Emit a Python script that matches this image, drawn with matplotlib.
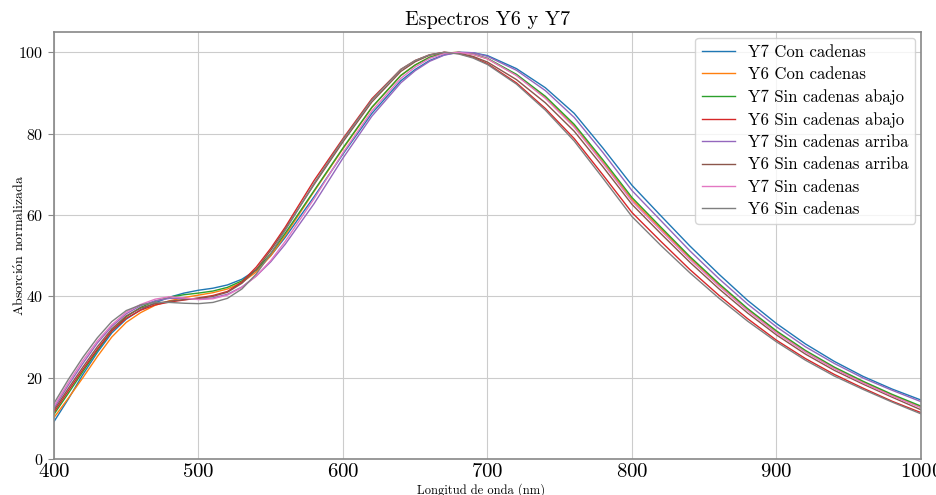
import matplotlib
matplotlib.use("Agg")
import matplotlib.pyplot as plt

plt.rcParams['font.family'] = ['cmr10', 'DejaVu Serif']
plt.rcParams['mathtext.fontset'] = 'cm'
plt.rcParams['axes.formatter.use_mathtext'] = True

wavelength = [400, 410, 420, 430, 440, 450, 460, 470, 480, 490, 500, 510, 520, 530, 540, 550, 560,
              580, 600, 620, 640, 650, 660, 670, 680, 690, 700, 720, 740, 760, 780, 800, 820, 840,
              860, 880, 900, 920, 940, 960, 980, 1000]

y7_con = [9.2, 14.8, 20.8, 26.2, 31.0, 34.4, 36.7, 38.4, 39.8, 40.8, 41.5, 42.0, 42.8, 44.2, 46.5, 50.0, 54.5,
          64.5, 75.0, 85.0, 93.0, 95.8, 98.0, 99.4, 100.0, 99.9, 99.2, 96.0, 91.3, 85.0, 76.4, 67.3, 59.8, 52.4,
          45.5, 39.0, 33.3, 28.3, 24.0, 20.3, 17.2, 14.5]
y6_con = [10.2, 15.0, 20.0, 25.2, 30.0, 33.6, 36.0, 37.8, 38.9, 39.7, 40.3, 40.9, 41.8, 43.4, 46.0, 50.0, 55.0,
          65.8, 76.3, 86.4, 94.3, 96.9, 98.8, 99.8, 100.0, 99.5, 98.4, 94.4, 88.9, 81.9, 73.0, 63.8, 56.6, 49.5,
          42.9, 36.8, 31.3, 26.5, 22.4, 18.9, 15.7, 12.8]
y7_sin_abajo = [11.0, 16.2, 21.5, 26.7, 31.5, 35.0, 37.3, 38.8, 39.8, 40.4, 40.8, 41.3, 42.2, 43.8, 46.5, 50.5, 55.5,
                66.0, 76.5, 86.5, 94.3, 96.9, 98.8, 99.8, 100.0, 99.6, 98.5, 94.6, 89.2, 82.3, 73.5, 64.3, 57.0, 49.8,
                43.2, 37.0, 31.5, 26.7, 22.6, 19.1, 15.9, 13.0]
y6_sin_abajo = [11.5, 16.8, 22.0, 27.0, 31.5, 34.6, 36.6, 37.9, 38.6, 39.1, 39.6, 40.2, 41.2, 43.5, 47.2, 51.8, 57.0,
                68.5, 78.8, 88.6, 95.8, 98.0, 99.4, 100.0, 99.7, 98.8, 97.2, 92.5, 86.2, 78.8, 69.8, 60.6, 53.5, 46.6,
                40.3, 34.5, 29.2, 24.7, 20.8, 17.4, 14.2, 11.4]
y7_sin_arriba = [12.5, 18.2, 23.5, 28.5, 32.6, 35.7, 37.7, 38.9, 39.5, 39.5, 39.3, 39.6, 40.5, 42.3, 45.0, 48.5, 52.8,
                 62.8, 74.0, 84.3, 92.5, 95.5, 97.8, 99.3, 100.0, 99.9, 99.0, 95.6, 90.6, 84.0, 75.3, 66.0, 58.6, 51.2,
                 44.4, 38.1, 32.5, 27.6, 23.5, 19.9, 16.9, 14.1]
y6_sin_arriba = [12.0, 17.4, 22.6, 27.6, 32.0, 35.2, 37.1, 38.2, 38.8, 39.2, 39.5, 40.0, 41.0, 43.2, 46.6, 51.3, 56.5,
                 67.5, 78.0, 87.8, 95.3, 97.7, 99.3, 100.0, 99.8, 99.0, 97.6, 93.3, 87.6, 80.6, 71.8, 62.6, 55.4, 48.4,
                 41.9, 35.9, 30.5, 25.8, 21.8, 18.4, 15.2, 12.1]
y7_sin = [13.0, 18.8, 24.2, 29.0, 33.0, 36.1, 38.0, 39.3, 39.9, 39.6, 39.2, 39.4, 40.3, 42.2, 45.0, 48.8, 53.5,
          64.0, 75.3, 85.6, 93.6, 96.4, 98.5, 99.7, 100.0, 99.5, 98.4, 94.3, 88.7, 81.6, 72.7, 63.4, 56.2, 49.1,
          42.6, 36.5, 31.0, 26.3, 22.2, 18.7, 15.5, 12.6]
y6_sin = [13.7, 19.6, 25.0, 29.8, 33.8, 36.5, 37.9, 38.5, 38.5, 38.3, 38.2, 38.5, 39.5, 41.8, 45.5, 50.5, 56.2,
          67.8, 78.5, 88.3, 95.8, 98.0, 99.4, 100.0, 99.6, 98.6, 97.0, 92.2, 85.8, 78.2, 69.0, 59.6, 52.5, 45.8,
          39.6, 33.9, 28.8, 24.3, 20.4, 17.1, 14.0, 11.1]

labels = ["Y7 Con cadenas", "Y6 Con cadenas", "Y7 Sin cadenas abajo", "Y6 Sin cadenas abajo",
          "Y7 Sin cadenas arriba", "Y6 Sin cadenas arriba", "Y7 Sin cadenas", "Y6 Sin cadenas"]
series = [y7_con, y6_con, y7_sin_abajo, y6_sin_abajo, y7_sin_arriba, y6_sin_arriba, y7_sin, y6_sin]

fig = plt.figure(figsize=(9.37, 4.95), dpi=100)
ax = fig.add_axes([54/937, 36/495, (921-54)/937, (459-32)/495])

for s, lab in zip(series, labels):
    ax.plot(wavelength, s, lw=1.0, label=lab)

ax.set_xlim(400, 1000)
ax.set_ylim(0, 105)
ax.set_xticks([400, 500, 600, 700, 800, 900, 1000])
ax.set_yticks([0, 20, 40, 60, 80, 100])
ax.grid(True, color='#cccccc', lw=0.8)
ax.set_axisbelow(True)
for sp in ax.spines.values():
    sp.set_color('#888888')
    sp.set_linewidth(1.2)
ax.tick_params(axis='x', labelsize=15, length=0, pad=3)
ax.tick_params(axis='y', labelsize=11.5, length=4, color='#888888')

ax.set_title("Espectros Y6 y Y7", fontsize=14.5, pad=5)
ax.set_xlabel("Longitud de onda (nm)", fontsize=9)
ax.xaxis.set_label_coords(0.493, -0.056)
ax.set_ylabel(r"Absorci$\acute{\mathrm{o}}$n normalizada", fontsize=10)
ax.yaxis.set_label_coords(-0.031, 0.5)
ax.legend(loc='upper right', fontsize=12, framealpha=0.8, labelspacing=0.42,
          handlelength=2.0, handletextpad=0.75, borderaxespad=0.35)

fig.savefig("out.png", dpi=100)
